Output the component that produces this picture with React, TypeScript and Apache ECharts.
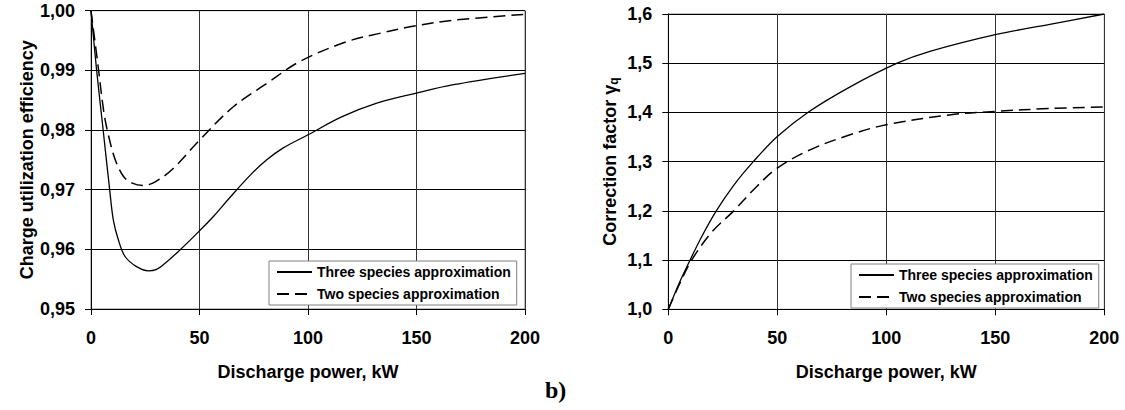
import React, { useEffect, useRef } from "react";
import * as echarts from "echarts";

const FONT = '"Liberation Sans", Arial, Helvetica, sans-serif';

// Left panel: charge utilization efficiency vs discharge power
const effThreeKw = [0, 2.6, 5.6, 8.6, 10.3, 12.6, 15.7, 21, 26.4, 30, 33.3, 41, 50, 56.4, 63.3, 73.3, 81, 88.6, 100, 115.5, 131.7, 150, 167, 200];
const effThree = [1.0, 0.99, 0.98, 0.97, 0.9649, 0.9616, 0.9588, 0.9571, 0.9564, 0.9566, 0.9574, 0.9599, 0.9631, 0.9655, 0.9684, 0.9724, 0.975, 0.977, 0.9792, 0.9822, 0.9845, 0.9862, 0.9876, 0.9895];

const effTwoKw = [0, 3, 6, 8, 11, 15, 19, 24, 30, 38, 50, 65.6, 81, 96.3, 117.8, 133, 150, 167, 200];
const effTwo = [1.0, 0.9915, 0.9828, 0.9792, 0.9752, 0.9722, 0.9711, 0.9707, 0.9714, 0.9736, 0.9783, 0.9839, 0.9878, 0.9915, 0.9948, 0.9962, 0.9975, 0.9984, 0.9994];

// Right panel: correction factor vs discharge power
const corrThreeKw = [0, 5, 10, 15, 22, 30, 39, 50, 64, 83, 105, 120, 150, 175, 200];
const corrThree = [1.0, 1.053, 1.1, 1.145, 1.2, 1.252, 1.3, 1.351, 1.4, 1.451, 1.5, 1.524, 1.558, 1.579, 1.6];

const corrTwoKw = [0, 5, 10.7, 20, 30, 40, 50, 65, 83, 100, 129, 150, 175, 200];
const corrTwo = [1.0, 1.05, 1.1, 1.157, 1.2, 1.247, 1.287, 1.324, 1.354, 1.375, 1.395, 1.402, 1.408, 1.411];

const powerTicks = { min: 0, max: 200, interval: 50 };
const effTicks = { min: 0.95, max: 1.0, interval: 0.01 };
const corrTicks = { min: 1.0, max: 1.6, interval: 0.1 };

const THREE = "Three species approximation";
const TWO = "Two species approximation";

const pairs = (xs: number[], ys: number[]) => xs.map((x, i) => [x, ys[i]]);

const labelStyle = { fontFamily: FONT, fontSize: 18, fontWeight: "bold" as const, color: "#000" };

function xAxisFor(gridIndex: number) {
  return {
    type: "value",
    gridIndex,
    ...powerTicks,
    name: "Discharge power, kW",
    nameLocation: "middle",
    nameGap: 54,
    nameTextStyle: { ...labelStyle },
    axisLine: { show: true, onZero: false, lineStyle: { color: "#000", width: 1 } },
    axisTick: { show: true, inside: false, length: 6, lineStyle: { color: "#000" } },
    axisLabel: { ...labelStyle, margin: 20 },
    splitLine: { show: true, lineStyle: { color: "#333", width: 1 } },
  };
}

function yAxisFor(gridIndex: number, ticks: any, digits: number, name: any, nameGap: number, rich?: any) {
  return {
    type: "value",
    gridIndex,
    ...ticks,
    name,
    nameLocation: "middle",
    nameGap,
    nameTextStyle: { ...labelStyle, rich },
    axisLine: { show: true, onZero: false, lineStyle: { color: "#000", width: 1 } },
    axisTick: { show: true, inside: false, length: 6, lineStyle: { color: "#000" } },
    axisLabel: {
      ...labelStyle,
      margin: 16,
      formatter: (v: number) => v.toFixed(digits).replace(".", ","),
    },
    splitLine: { show: true, lineStyle: { color: "#000", width: 1 } },
  };
}

function legendAt(left: number, top: number) {
  return {
    left,
    top,
    orient: "vertical",
    data: [THREE, TWO],
    backgroundColor: "#fff",
    borderColor: "#808080",
    borderWidth: 1,
    padding: [4, 6, 4, 7],
    itemGap: 8,
    itemWidth: 35,
    itemHeight: 14,
    selectedMode: false,
    // line-only keys: hide the marker symbol
    itemStyle: { opacity: 0 },
    textStyle: { fontFamily: FONT, fontSize: 14, fontWeight: "bold", color: "#000" },
  };
}

const solidLine = { color: "#000", width: 1.3, type: "solid" };
const dashedLine = { color: "#000", width: 1.5, type: [12, 6] };

function curve(name: string, xi: number, data: number[][], lineStyle: any) {
  return {
    name,
    type: "line",
    xAxisIndex: xi,
    yAxisIndex: xi,
    data,
    symbol: "none",
    smooth: 0.35,
    color: "#000",
    lineStyle,
    z: 3,
  };
}

export default function App() {
  const ref = useRef<HTMLDivElement>(null);

  useEffect(() => {
    const chart = echarts.init(ref.current!, null, { renderer: "svg" });
    chart.setOption({
      animation: false,
      backgroundColor: "#fff",
      textStyle: { fontFamily: FONT },
      grid: [
        { left: 91, top: 10.7, right: 600, bottom: 101, show: true, borderColor: "#808080", borderWidth: 1, containLabel: false },
        { left: 668.3, top: 14, right: 20.7, bottom: 100.7, show: true, borderColor: "#808080", borderWidth: 1, containLabel: false },
      ],
      xAxis: [xAxisFor(0), xAxisFor(1)],
      yAxis: [
        yAxisFor(0, effTicks, 2, "Charge utilization efficiency", 53),
        yAxisFor(1, corrTicks, 1, "{a|Correction factor \u03b3}{b|q}", 48, {
          a: { fontFamily: FONT, fontSize: 18, fontWeight: "bold", color: "#000", lineHeight: 20 },
          b: { fontFamily: FONT, fontSize: 12, fontWeight: "bold", color: "#000", lineHeight: 12, verticalAlign: "bottom" },
        }),
      ],
      legend: [legendAt(269, 261), legendAt(851, 264)],
      series: [
        curve(THREE, 0, pairs(effThreeKw, effThree), solidLine),
        curve(TWO, 0, pairs(effTwoKw, effTwo), dashedLine),
        curve(THREE, 1, pairs(corrThreeKw, corrThree), solidLine),
        curve(TWO, 1, pairs(corrTwoKw, corrTwo), dashedLine),
      ],
      graphic: [
        {
          type: "text",
          left: 545,
          top: 378,
          style: { text: "b)", font: 'bold 24px "Liberation Serif", "Times New Roman", serif', fill: "#000" },
        },
      ],
    });
    return () => chart.dispose();
  }, []);

  return (
    <div
      ref={ref}
      style={{ position: "absolute", left: 0, top: 0, width: 1125, height: 410, background: "#fff" }}
    />
  );
}
